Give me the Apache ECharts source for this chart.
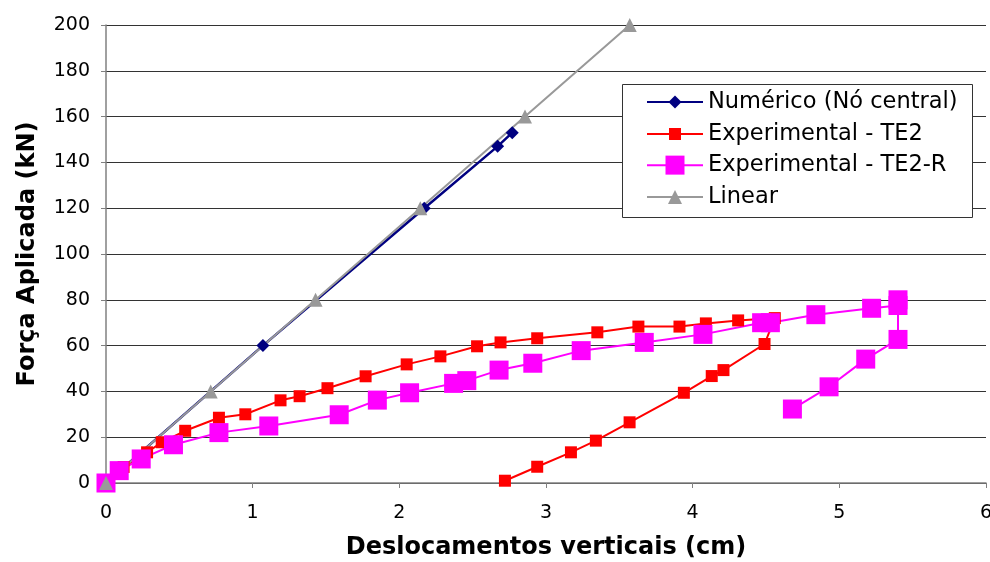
<!DOCTYPE html>
<html>
<head>
<meta charset="utf-8">
<script src="https://cdn.jsdelivr.net/npm/echarts@6/dist/echarts.min.js"></script>
<style>
  html, body { margin: 0; padding: 0; background: #ffffff; }
  #chart { width: 990px; height: 562px; }
</style>
</head>
<body>
<div id="chart"></div>
<script>
// Displacement (cm) / applied load (kN) pairs for each curve
const numerico = [[0, 0], [1.07, 60], [2.17, 120], [2.67, 147], [2.77, 153]];
const te2 = [
  [0, 0], [0.12, 7], [0.28, 13.4], [0.38, 17.8], [0.54, 22.8], [0.77, 28.5],
  [0.95, 30], [1.19, 36.1], [1.32, 37.9], [1.51, 41.4], [1.77, 46.6],
  [2.05, 51.8], [2.28, 55.3], [2.53, 59.7], [2.69, 61.4], [2.94, 63.2],
  [3.35, 65.8], [3.63, 68.3], [3.91, 68.3], [4.09, 69.7], [4.31, 71],
  [4.56, 72], [4.49, 60.7], [4.21, 49.3], [4.13, 46.7], [3.94, 39.4],
  [3.57, 26.5], [3.34, 18.5], [3.17, 13.4], [2.94, 7.1], [2.72, 1]
];
const te2r = [
  [0, 0], [0.09, 5.4], [0.24, 10.5], [0.46, 16.7], [0.77, 22], [1.11, 24.9],
  [1.59, 29.8], [1.85, 36.2], [2.07, 39.4], [2.37, 43.5], [2.46, 44.7],
  [2.68, 49.3], [2.91, 52.3], [3.24, 57.8], [3.67, 61.4], [4.07, 64.9],
  [4.47, 70], [4.53, 70], [4.84, 73.5], [5.22, 76.3], [5.4, 77.5],
  [5.4, 80], [5.4, 62.7], [5.18, 54.1], [4.93, 42], [4.68, 32.3]
];
const linear = [[0, 0], [0.714, 40], [1.429, 80], [2.143, 120], [2.857, 160], [3.571, 200]];

const seriesNames = ['Numérico (Nó central)', 'Experimental - TE2', 'Experimental - TE2-R', 'Linear'];
const xTitle = 'Deslocamentos verticais (cm)';
const yTitle = 'Força Aplicada (kN)';

const chart = echarts.init(document.getElementById('chart'), null, { renderer: 'canvas' });

const tickFont = { fontFamily: 'DejaVu Sans', fontSize: 19, color: '#000' };
const titleFont = { fontFamily: 'DejaVu Sans', fontWeight: 'bold', fontSize: 24, color: '#000' };

// series styling: colour, marker, marker size
const styles = [
  { color: '#000080', symbol: 'diamond', size: 13, width: 2.5 },
  { color: '#ff0000', symbol: 'rect', size: 12, width: 2 },
  { color: '#ff00ff', symbol: 'rect', size: 19, width: 2 },
  { color: '#999999', symbol: 'triangle', size: 14, width: 2 }
];
const seriesData = [numerico, te2, te2r, linear];

// one legend row per series so each icon keeps its own marker size
const rowCenters = [102, 134, 165.5, 197];
const legends = seriesNames.map(function (name, i) {
  const h = styles[i].size / 0.8;
  return {
    orient: 'vertical',
    left: 646,
    top: rowCenters[i] - Math.max(h, 23) / 2,
    padding: 0,
    itemWidth: 56,
    itemHeight: h,
    textStyle: { fontFamily: 'DejaVu Sans', fontSize: 22.5, color: '#000' },
    data: [name]
  };
});

chart.setOption({
  backgroundColor: '#ffffff',
  animation: false,
  grid: { left: 106, right: 4, top: 25, bottom: 79, containLabel: false, outerBoundsMode: 'none' },
  xAxis: {
    type: 'value', min: 0, max: 6, interval: 1,
    name: xTitle, nameLocation: 'middle', nameGap: 53,
    nameTextStyle: titleFont,
    axisLine: { show: true, onZero: false, lineStyle: { color: '#808080', width: 1.5 } },
    axisTick: { show: true, length: 5, lineStyle: { color: '#808080' } },
    axisLabel: Object.assign({ margin: 21 }, tickFont),
    splitLine: { show: false }
  },
  yAxis: {
    type: 'value', min: 0, max: 200, interval: 20,
    name: yTitle, nameLocation: 'middle', nameGap: 66,
    nameTextStyle: titleFont,
    axisLine: { show: true, onZero: false, lineStyle: { color: '#808080', width: 1.5 } },
    axisTick: { show: true, length: 5, lineStyle: { color: '#808080' } },
    axisLabel: Object.assign({ margin: 16 }, tickFont),
    splitLine: { show: true, lineStyle: { color: '#333333', width: 1 } }
  },
  legend: legends,
  graphic: [{
    type: 'rect',
    z: 3,
    shape: { x: 622.5, y: 84.5, width: 350, height: 133 },
    style: { fill: '#ffffff', stroke: '#333333', lineWidth: 1 }
  }],
  series: seriesData.map(function (data, i) {
    const s = styles[i];
    return {
      name: seriesNames[i],
      type: 'line',
      data: data,
      symbol: s.symbol,
      symbolSize: s.size,
      showAllSymbol: true,
      lineStyle: { color: s.color, width: s.width },
      itemStyle: { color: s.color },
      animation: false
    };
  })
});
</script>
</body>
</html>
